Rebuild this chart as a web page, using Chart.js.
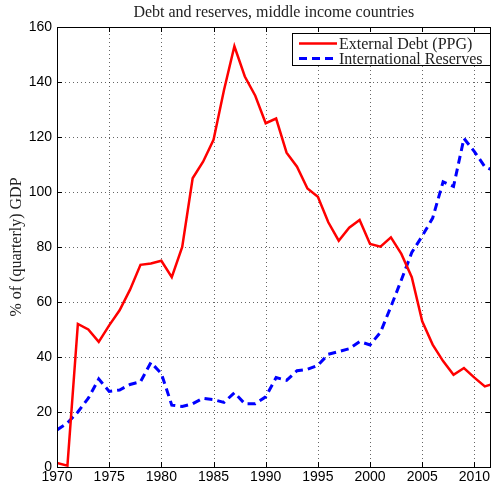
<!DOCTYPE html>
<html>
<head>
<meta charset="utf-8">
<script src="https://cdn.jsdelivr.net/npm/chart.js@4.4.0/dist/chart.umd.min.js"></script>
<style>
  html, body { margin: 0; padding: 0; background: #fff; }
  #wrap { width: 492px; height: 487px; }
</style>
</head>
<body>
<div id="wrap"><canvas id="mainChart" width="492" height="487"></canvas></div>
<script>
const years = [1970,1971,1972,1973,1974,1975,1976,1977,1978,1979,1980,1981,1982,1983,1984,1985,1986,1987,1988,1989,
  1990,1991,1992,1993,1994,1995,1996,1997,1998,1999,2000,2001,2002,2003,2004,2005,2006,2007,2008,2009,2010,2011,2012];
const externalDebt = [1.5,0.5,52,50,45.5,51.5,57,64.5,73.5,74,75,69,80,105,111,119,137,153,142,135,
  125,126.7,114.3,109.2,101.3,98.3,89,82.3,87,89.8,81.1,80.1,83.5,77.5,69,53,44.5,38.5,33.5,36,32.5,29.3,30.5];
const reserves = [13.5,16,20,25,32,27.5,28,30,31,38,34,22.5,22,23,25,24.5,23.5,27,23,23,
  25.5,32.5,31.5,35,35.5,37,41,42,43,45.6,44.4,49,58.3,68,78,84,90.5,103.7,102,119.5,114.7,109.2,107.5];
const xTicks = [1970,1975,1980,1985,1990,1995,2000,2005,2010];
const yTicks = [0,20,40,60,80,100,120,140,160];
const chartTitle = 'Debt and reserves, middle income countries';

const serif = '"Liberation Serif", "DejaVu Serif", serif';
const sans = '"Liberation Sans", Arial, sans-serif';

// grelha pontilhada por baixo das linhas
const gridPlugin = {
  id: 'gridPlugin',
  beforeDatasetsDraw(chart) {
    const { ctx, chartArea: a, scales } = chart;
    ctx.save();
    ctx.strokeStyle = 'rgba(0,0,0,0.6)';
    ctx.lineWidth = 1;
    ctx.setLineDash([1, 3]);
    ctx.beginPath();
    xTicks.forEach(t => {
      const x = Math.round(scales.x.getPixelForValue(t)) + 0.5;
      ctx.moveTo(x, a.bottom); ctx.lineTo(x, a.top);
    });
    yTicks.forEach(t => {
      const y = Math.round(scales.y.getPixelForValue(t)) + 0.5;
      ctx.moveTo(a.left, y); ctx.lineTo(a.right, y);
    });
    ctx.stroke();
    ctx.restore();
  }
};

// caixa, marcas para dentro, título e legenda
const boxPlugin = {
  id: 'boxPlugin',
  afterDatasetsDraw(chart) {
    const { ctx, chartArea: a, scales } = chart;
    ctx.save();
    ctx.strokeStyle = '#000';
    ctx.lineWidth = 1;
    ctx.beginPath();
    xTicks.forEach(t => {
      const x = Math.round(scales.x.getPixelForValue(t)) + 0.5;
      ctx.moveTo(x, a.bottom); ctx.lineTo(x, a.bottom - 5);
      ctx.moveTo(x, a.top); ctx.lineTo(x, a.top + 5);
    });
    yTicks.forEach(t => {
      const y = Math.round(scales.y.getPixelForValue(t)) + 0.5;
      ctx.moveTo(a.left, y); ctx.lineTo(a.left + 5, y);
      ctx.moveTo(a.right, y); ctx.lineTo(a.right - 5, y);
    });
    ctx.stroke();
    ctx.strokeRect(Math.round(a.left) + 0.5, Math.round(a.top) + 0.5, Math.round(a.right - a.left) - 1, Math.round(a.bottom - a.top));

    // título centrado na área do gráfico
    ctx.fillStyle = '#222';
    ctx.font = '16px ' + serif;
    ctx.textAlign = 'center';
    ctx.textBaseline = 'middle';
    ctx.fillText(chartTitle, (a.left + a.right) / 2, 13);

    // legenda
    const lx = 292.5, ly = 33.5, lw = 198, lh = 32;
    ctx.fillStyle = '#fff';
    ctx.fillRect(lx, ly, lw, lh);
    ctx.strokeStyle = '#000';
    ctx.lineWidth = 1;
    ctx.strokeRect(lx, ly, lw, lh);
    ctx.font = '16px ' + serif;
    ctx.textBaseline = 'middle';
    ctx.textAlign = 'left';
    chart.data.datasets.forEach((ds, i) => {
      const cy = ly + 10 + i * 15;
      ctx.strokeStyle = ds.borderColor;
      ctx.lineWidth = ds.borderWidth;
      ctx.setLineDash(ds.borderDash || []);
      ctx.beginPath();
      ctx.moveTo(299, cy); ctx.lineTo(337, cy);
      ctx.stroke();
      ctx.setLineDash([]);
      ctx.fillStyle = '#222';
      ctx.fillText(ds.label, 339, cy + 1);
    });
    ctx.restore();
  }
};

new Chart(document.getElementById('mainChart'), {
  type: 'line',
  data: {
    datasets: [
      { label: 'External Debt (PPG)', data: years.map((yr, i) => ({ x: yr, y: externalDebt[i] })),
        borderColor: '#ff0000', borderWidth: 2.5, pointRadius: 0, tension: 0, fill: false },
      { label: 'International Reserves', data: years.map((yr, i) => ({ x: yr, y: reserves[i] })),
        borderColor: '#0000ff', borderWidth: 3, borderDash: [8, 5], pointRadius: 0, tension: 0, fill: false }
    ]
  },
  options: {
    responsive: false,
    animation: false,
    layout: { padding: { left: 0, right: 1, top: 27, bottom: 0 } },
    plugins: {
      legend: { display: false },
      tooltip: { enabled: false },
      title: { display: false }
    },
    scales: {
      x: {
        type: 'linear', min: 1970, max: 2011.55,
        afterBuildTicks: s => { s.ticks = xTicks.map(v => ({ value: v })); },
        afterFit: s => { s.height = 20; },
        grid: { display: false, drawTicks: false },
        border: { display: true, color: '#000' },
        ticks: { color: '#000', font: { family: sans, size: 14 }, padding: 2, maxRotation: 0, autoSkip: false,
          callback: v => String(v) }
      },
      y: {
        min: 0, max: 160,
        afterBuildTicks: s => { s.ticks = yTicks.map(v => ({ value: v })); },
        afterFit: s => { s.width = 57; },
        grid: { display: false, drawTicks: false },
        border: { display: true, color: '#000' },
        title: { display: true, text: '% of (quarterly) GDP', color: '#222',
          font: { family: serif, size: 16 }, padding: { top: 7, bottom: 2 } },
        ticks: { color: '#000', font: { family: sans, size: 14 }, padding: 5, callback: v => String(v) }
      }
    }
  },
  plugins: [gridPlugin, boxPlugin]
});
</script>
</body>
</html>
